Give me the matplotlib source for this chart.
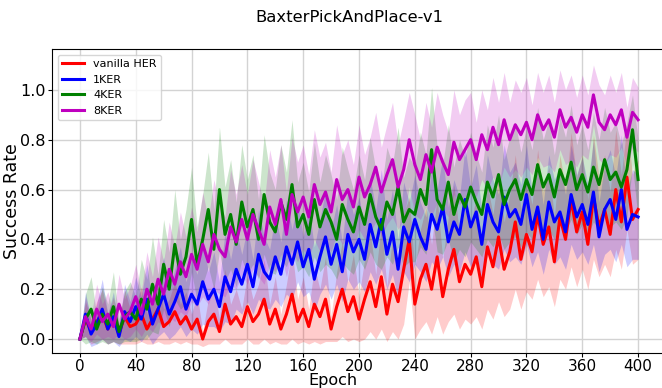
import matplotlib
matplotlib.use("Agg")

import numpy as np
import matplotlib.pyplot as plt

# Epochs (every 4th epoch)
epochs = np.arange(0, 401, 4)

labels = ["vanilla HER", "1KER", "4KER", "8KER"]
colors = ["red", "blue", "green", "m"]

# Mean success rate per series
her_mean = [0.00, 0.08, 0.03, 0.07, 0.10, 0.04, 0.08, 0.02, 0.09, 0.05,
            0.06, 0.10, 0.04, 0.08, 0.12, 0.05, 0.07, 0.11, 0.06, 0.09,
            0.04, 0.08, 0.00, 0.07, 0.10, 0.03, 0.14, 0.06, 0.09, 0.05,
            0.13, 0.07, 0.10, 0.16, 0.06, 0.12, 0.04, 0.10, 0.18, 0.07,
            0.12, 0.05, 0.14, 0.09, 0.16, 0.04, 0.13, 0.20, 0.11, 0.17,
            0.08, 0.16, 0.23, 0.13, 0.25, 0.10, 0.22, 0.15, 0.28, 0.40,
            0.14, 0.24, 0.30, 0.20, 0.33, 0.17, 0.28, 0.36, 0.23, 0.30,
            0.26, 0.33, 0.21, 0.37, 0.29, 0.41, 0.28, 0.35, 0.47, 0.32,
            0.42, 0.35, 0.50, 0.38, 0.45, 0.31, 0.49, 0.40, 0.56, 0.43,
            0.51, 0.38, 0.57, 0.45, 0.52, 0.42, 0.60, 0.47, 0.65, 0.48,
            0.52]
ker1_mean = [0.00, 0.10, 0.02, 0.06, 0.12, 0.04, 0.09, 0.01, 0.11, 0.07,
             0.13, 0.08, 0.16, 0.06, 0.12, 0.18, 0.10, 0.15, 0.21, 0.12,
             0.18, 0.14, 0.23, 0.16, 0.20, 0.13, 0.25, 0.19, 0.28, 0.22,
             0.30, 0.21, 0.34, 0.27, 0.24, 0.33, 0.26, 0.37, 0.30, 0.39,
             0.29, 0.36, 0.24, 0.33, 0.41, 0.30, 0.38, 0.27, 0.42, 0.35,
             0.40, 0.32, 0.46, 0.37, 0.48, 0.34, 0.43, 0.28, 0.45, 0.39,
             0.48, 0.41, 0.36, 0.50, 0.44, 0.53, 0.39, 0.47, 0.42, 0.56,
             0.45, 0.51, 0.38, 0.54, 0.47, 0.43, 0.57, 0.49, 0.52, 0.46,
             0.58, 0.44, 0.53, 0.40, 0.55, 0.47, 0.51, 0.43, 0.58, 0.49,
             0.54, 0.46, 0.59, 0.41, 0.52, 0.56, 0.48, 0.60, 0.44, 0.50,
             0.49]
ker4_mean = [0.00, 0.08, 0.12, 0.04, 0.10, 0.06, 0.13, 0.03, 0.09, 0.11,
             0.08, 0.16, 0.12, 0.22, 0.14, 0.30, 0.20, 0.38, 0.26, 0.33,
             0.48, 0.30, 0.40, 0.52, 0.36, 0.60, 0.42, 0.50, 0.38, 0.55,
             0.45, 0.52, 0.40, 0.58, 0.47, 0.43, 0.55, 0.48, 0.62, 0.45,
             0.50, 0.42, 0.56, 0.45, 0.52, 0.47, 0.40, 0.54, 0.48, 0.43,
             0.53, 0.46, 0.58, 0.49, 0.44, 0.55, 0.50, 0.61, 0.47, 0.52,
             0.50, 0.60, 0.54, 0.76, 0.56, 0.52, 0.63, 0.50, 0.58, 0.53,
             0.61, 0.55, 0.50, 0.63, 0.57, 0.66, 0.54, 0.60, 0.64, 0.56,
             0.64, 0.58, 0.70, 0.61, 0.66, 0.57, 0.68, 0.62, 0.71, 0.60,
             0.66, 0.59, 0.69, 0.62, 0.72, 0.64, 0.67, 0.61, 0.68, 0.84,
             0.64]
ker8_mean = [0.00, 0.09, 0.04, 0.12, 0.07, 0.10, 0.05, 0.14, 0.08, 0.11,
             0.17, 0.10, 0.20, 0.14, 0.24, 0.18, 0.28, 0.22, 0.31, 0.25,
             0.34, 0.28, 0.38, 0.31, 0.42, 0.36, 0.33, 0.45, 0.39, 0.48,
             0.40, 0.50, 0.44, 0.38, 0.53, 0.46, 0.56, 0.42, 0.58, 0.51,
             0.57, 0.49, 0.62, 0.54, 0.59, 0.51, 0.64, 0.56, 0.60, 0.53,
             0.65, 0.57, 0.62, 0.69, 0.59, 0.66, 0.72, 0.61, 0.68, 0.80,
             0.70, 0.64, 0.74, 0.67, 0.77, 0.71, 0.66, 0.79, 0.72, 0.76,
             0.80, 0.72, 0.82, 0.76, 0.85, 0.78, 0.88, 0.80, 0.86, 0.82,
             0.87, 0.80, 0.90, 0.84, 0.88, 0.81, 0.92, 0.85, 0.89, 0.83,
             0.90, 0.85, 0.98, 0.87, 0.84, 0.90, 0.86, 0.92, 0.81, 0.91,
             0.88]

# Std over seeds (shaded band)
her_std = [0.00, 0.07, 0.05, 0.08, 0.10, 0.06, 0.09, 0.04, 0.11, 0.07,
           0.08, 0.11, 0.06, 0.10, 0.13, 0.07, 0.09, 0.12, 0.08, 0.10,
           0.06, 0.10, 0.03, 0.09, 0.12, 0.05, 0.14, 0.08, 0.11, 0.07,
           0.13, 0.09, 0.12, 0.16, 0.08, 0.13, 0.06, 0.12, 0.18, 0.09,
           0.13, 0.07, 0.15, 0.11, 0.17, 0.05, 0.14, 0.19, 0.12, 0.17,
           0.09, 0.16, 0.20, 0.13, 0.21, 0.11, 0.19, 0.15, 0.22, 0.17,
           0.14, 0.20, 0.23, 0.18, 0.24, 0.15, 0.21, 0.26, 0.19, 0.22,
           0.20, 0.24, 0.17, 0.25, 0.21, 0.26, 0.19, 0.23, 0.27, 0.20,
           0.23, 0.19, 0.26, 0.21, 0.24, 0.18, 0.25, 0.20, 0.27, 0.22,
           0.23, 0.18, 0.25, 0.20, 0.22, 0.17, 0.24, 0.19, 0.21, 0.18,
           0.20]
ker1_std = [0.00, 0.09, 0.05, 0.08, 0.12, 0.06, 0.10, 0.04, 0.11, 0.08,
            0.12, 0.09, 0.14, 0.08, 0.11, 0.15, 0.10, 0.13, 0.16, 0.11,
            0.14, 0.12, 0.17, 0.11, 0.15, 0.10, 0.18, 0.13, 0.16, 0.12,
            0.15, 0.11, 0.18, 0.14, 0.12, 0.17, 0.13, 0.19, 0.14, 0.16,
            0.12, 0.17, 0.13, 0.15, 0.19, 0.14, 0.16, 0.12, 0.18, 0.15,
            0.17, 0.13, 0.19, 0.15, 0.20, 0.14, 0.17, 0.12, 0.18, 0.16,
            0.18, 0.14, 0.13, 0.19, 0.16, 0.20, 0.14, 0.17, 0.15, 0.21,
            0.16, 0.19, 0.14, 0.20, 0.17, 0.15, 0.21, 0.18, 0.19, 0.16,
            0.20, 0.15, 0.18, 0.14, 0.19, 0.17, 0.18, 0.15, 0.20, 0.17,
            0.19, 0.16, 0.21, 0.14, 0.18, 0.20, 0.17, 0.22, 0.15, 0.18,
            0.17]
ker4_std = [0.00, 0.10, 0.13, 0.06, 0.11, 0.08, 0.14, 0.05, 0.10, 0.12,
            0.09, 0.16, 0.12, 0.19, 0.12, 0.18, 0.15, 0.22, 0.14, 0.19,
            0.21, 0.15, 0.18, 0.23, 0.16, 0.25, 0.19, 0.22, 0.17, 0.23,
            0.19, 0.22, 0.16, 0.24, 0.20, 0.17, 0.23, 0.19, 0.26, 0.18,
            0.21, 0.17, 0.23, 0.18, 0.22, 0.19, 0.16, 0.23, 0.20, 0.17,
            0.21, 0.18, 0.23, 0.19, 0.16, 0.22, 0.20, 0.24, 0.18, 0.21,
            0.19, 0.23, 0.20, 0.25, 0.21, 0.18, 0.23, 0.19, 0.22, 0.20,
            0.22, 0.19, 0.17, 0.23, 0.20, 0.24, 0.18, 0.21, 0.23, 0.19,
            0.21, 0.18, 0.23, 0.19, 0.22, 0.17, 0.21, 0.19, 0.23, 0.18,
            0.20, 0.17, 0.22, 0.18, 0.21, 0.19, 0.20, 0.17, 0.19, 0.14,
            0.16]
ker8_std = [0.00, 0.08, 0.05, 0.10, 0.07, 0.09, 0.05, 0.12, 0.08, 0.10,
            0.13, 0.09, 0.15, 0.11, 0.17, 0.13, 0.19, 0.15, 0.20, 0.16,
            0.19, 0.15, 0.21, 0.17, 0.22, 0.18, 0.16, 0.23, 0.19, 0.22,
            0.18, 0.22, 0.19, 0.16, 0.23, 0.19, 0.22, 0.17, 0.23, 0.20,
            0.21, 0.17, 0.22, 0.19, 0.20, 0.16, 0.22, 0.18, 0.20, 0.17,
            0.21, 0.17, 0.19, 0.22, 0.18, 0.20, 0.23, 0.17, 0.20, 0.19,
            0.20, 0.16, 0.21, 0.18, 0.22, 0.19, 0.17, 0.21, 0.18, 0.20,
            0.19, 0.15, 0.18, 0.16, 0.20, 0.17, 0.19, 0.15, 0.18, 0.17,
            0.18, 0.14, 0.17, 0.15, 0.18, 0.14, 0.16, 0.15, 0.17, 0.14,
            0.16, 0.13, 0.12, 0.15, 0.14, 0.16, 0.13, 0.15, 0.12, 0.14,
            0.13]

means = [her_mean, ker1_mean, ker4_mean, ker8_mean]
stds = [her_std, ker1_std, ker4_std, ker8_std]

fig = plt.figure(figsize=(6.62, 3.88), dpi=100)
ax = fig.add_axes([52 / 662, 35 / 388, 614 / 662, 304 / 388])

for m, s, c in zip(means, stds, colors):
    m = np.array(m)
    s = np.array(s)
    ax.fill_between(epochs, m - s, m + s, color=c, alpha=0.2, linewidth=0)

for m, c, lab in zip(means, colors, labels):
    ax.plot(epochs, m, color=c, linewidth=2.2, label=lab)

ax.set_xlim(-20, 420)
ax.set_ylim(-0.056, 1.164)
ax.set_xticks(np.arange(0, 401, 40))
ax.set_yticks([0.0, 0.2, 0.4, 0.6, 0.8, 1.0])
ax.tick_params(axis="y", labelsize=11.5, length=3, pad=1.5)
ax.tick_params(axis="x", labelsize=11, length=3, pad=1)
ax.grid(True, color="#d3d3d3", linewidth=1)
ax.set_axisbelow(True)
ax.set_xlabel("Epoch", fontsize=11.5)
ax.set_ylabel("Success Rate", fontsize=12.5)
ax.xaxis.set_label_coords((333 - 52) / 614, -20 / 304)
ax.yaxis.set_label_coords(-31 / 614, 0.5)
ax.xaxis.label.set_va("top")
ax.legend(loc="upper left", fontsize=8, labelspacing=0.5)

fig.text(349 / 662, 1 - 17 / 388, "BaxterPickAndPlace-v1", ha="center", va="center", fontsize=11.8)

fig.savefig("out.png", dpi=100)
